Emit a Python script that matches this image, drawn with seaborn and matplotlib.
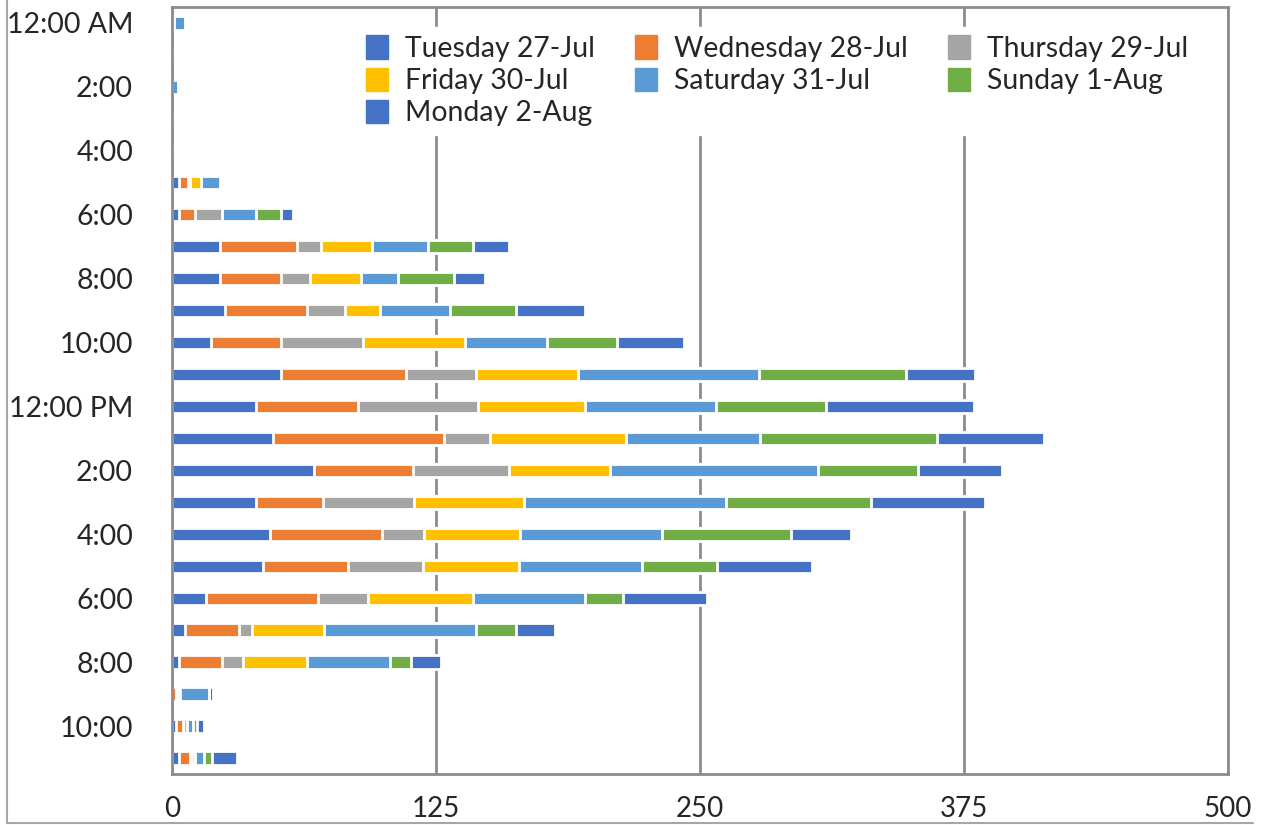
import numpy as np
import pandas as pd
import matplotlib
matplotlib.use("Agg")
import matplotlib.pyplot as plt
from matplotlib.patches import Patch
from matplotlib.lines import Line2D
import seaborn as sns

# Hour of day (0 = midnight)
hours = list(range(24))
hour_labels = ["12:00 AM", "2:00", "4:00", "6:00", "8:00", "10:00",
               "12:00 PM", "2:00", "4:00", "6:00", "8:00", "10:00"]

days = ["Tuesday 27-Jul", "Wednesday 28-Jul", "Thursday 29-Jul", "Friday 30-Jul",
        "Saturday 31-Jul", "Sunday 1-Aug", "Monday 2-Aug"]
day_colors = ["#4472C4", "#ED7D31", "#A5A5A5", "#FFC000", "#5B9BD5", "#70AD47", "#4472C4"]

# Counts per hour, one list per day
tue = [0, 0, 0, 0, 0, 3.5, 3.5, 22.5, 22.5, 25, 18.5, 51.5, 40, 48, 67, 40, 46.5, 43, 16, 6, 3.5, 0, 2, 3.5]
wed = [0, 0, 0, 0, 0, 4, 7.5, 36.5, 29, 39, 33, 59.5, 48, 81, 47, 31.5, 53, 40.5, 53, 25.5, 20, 2, 3, 5]
thu = [0, 0, 0, 0, 0, 1, 12.5, 11.5, 14, 18, 39, 33, 57, 21.5, 45.5, 43, 20, 35.5, 24, 6.5, 10, 1, 0, 1]
fri = [1, 0, 0, 0, 0, 5, 0, 24, 24, 16.5, 48, 48, 50.5, 64.5, 48, 52, 45.5, 45.5, 49.5, 34, 30.5, 1, 2, 1.5]
sat = [5, 0, 3, 0, 0, 9, 16.5, 26.5, 17.5, 33, 39, 86, 62, 63.5, 98.5, 96, 67, 58, 53, 72, 39, 13.5, 3, 4]
sun = [0, 0, 0, 0, 0, 0, 11.5, 21.5, 26.5, 31.5, 33, 69.5, 52, 83.5, 47, 68.5, 61, 35.5, 18, 19, 10, 0, 2, 4]
mon = [0, 0, 0, 0, 0, 0, 6, 17, 14.5, 32.5, 32, 32.5, 70, 51, 40, 54, 28.5, 45, 40, 18.5, 14.5, 2, 3, 12]

series = [tue, wed, thu, fri, sat, sun, mon]

df = pd.DataFrame(np.array(series).T, columns=days)
df["hour"] = hours
cum = df[days].cumsum(axis=1)
cum["hour"] = hours

sns.set_style("white")
plt.rcParams["font.family"] = ["Lato", "DejaVu Sans"]

grid_col = "#8C8C8C"

fig = plt.figure(figsize=(12.65, 8.25), dpi=100)
ax = fig.add_axes([172 / 1265, 1 - 774 / 825, (1228 - 172) / 1265, (774 - 7) / 825])

# draw stacked bars from the longest cumulative total down
for day, col in reversed(list(zip(days, day_colors))):
    sns.barplot(data=cum, x=day, y="hour", orient="y", order=hours, color=col,
                saturation=1, width=0.42, edgecolor="white", linewidth=2, ax=ax)

ax.set_xlim(0, 500)
ax.set_ylim(23.5, -0.5)
ax.set_xticks([0, 125, 250, 375, 500])
ax.set_xticklabels(["0", "125", "250", "375", "500"], fontsize=20)
ax.set_yticks(range(0, 24, 2))
ax.set_yticklabels(hour_labels, fontsize=20.5)
ax.set_yticks(np.arange(-0.5, 24, 1), minor=True)
ax.tick_params(axis="y", which="major", length=0, pad=28)
ax.tick_params(axis="y", which="minor", length=5, width=2, color=grid_col, direction="out")
ax.tick_params(axis="x", length=5, width=2, color=grid_col, direction="out", pad=11)
ax.set_xlabel("")
ax.set_ylabel("")

ax.grid(axis="x", color=grid_col, linewidth=2)
ax.set_axisbelow(True)
for s in ax.spines.values():
    s.set_visible(True)
    s.set_color(grid_col)
    s.set_linewidth(2)

handles = [Patch(facecolor=c, edgecolor=c, label=d) for d, c in zip(days, day_colors)]
order = [0, 3, 6, 1, 4, 2, 5]
leg = ax.legend([handles[i] for i in order], [days[i] for i in order],
                ncol=3, loc="upper left", bbox_to_anchor=(357 / 1265, 1 - 27 / 825),
                bbox_transform=fig.transFigure, frameon=True, fontsize=20.4,
                handlelength=0.8, handleheight=0.9, handletextpad=0.6,
                columnspacing=1.4, labelspacing=0.2, borderpad=0.3, borderaxespad=0)
leg.get_frame().set_facecolor("white")
leg.get_frame().set_edgecolor("white")
leg.get_frame().set_alpha(1)

# outer chart frame
fig.add_artist(Line2D([7 / 1265, 7 / 1265], [2 / 825, 1], transform=fig.transFigure,
                      color="#A6A6A6", linewidth=1.5))
fig.add_artist(Line2D([7 / 1265, 1253 / 1265], [2 / 825, 2 / 825], transform=fig.transFigure,
                      color="#A6A6A6", linewidth=1.5))

fig.savefig("out.png", dpi=100)
